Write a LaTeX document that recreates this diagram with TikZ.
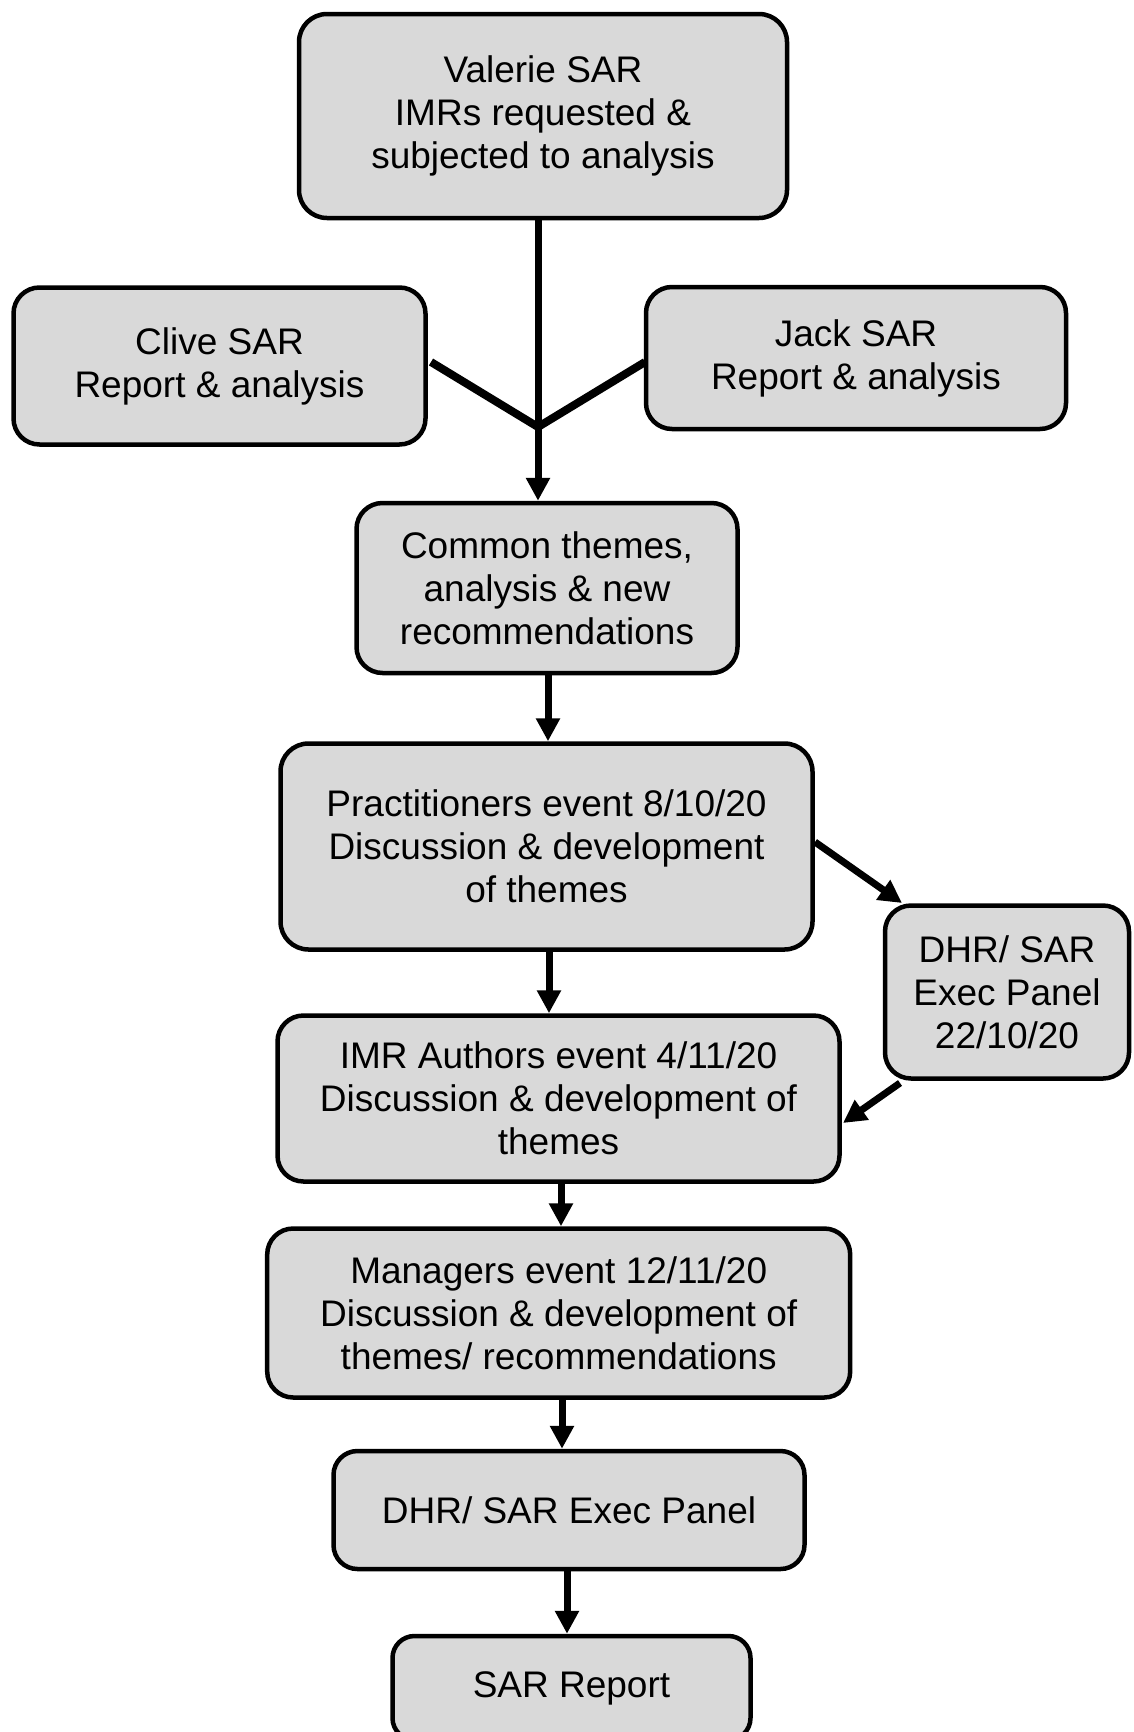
\documentclass[tikz,border=0pt]{standalone}
\usepackage{fontspec}
\setmainfont{Liberation Sans}
\usetikzlibrary{arrows.meta}
\definecolor{boxgray}{HTML}{D9D9D9}
\tikzset{
  box/.style={draw=black, fill=boxgray, line width=4.5pt, rounded corners=28pt,
    align=center, inner sep=0pt, font=\fontsize{37}{43}\selectfont, text=black},
  arr/.style={line width=7pt, -{Triangle[length=23pt,width=23pt]}},
  link/.style={line width=8pt}
}
\begin{document}
\begin{tikzpicture}[x=1pt,y=-1pt]
\fill[white] (0,0) rectangle (1134,1732);
\useasboundingbox (0,0) rectangle (1134,1732);
\clip (0,0) rectangle (1134,1732);

\node[box, minimum width=488pt, minimum height=204pt] (valerie) at (543,116)
  {Valerie SAR\\IMRs requested \&\\subjected to analysis};
\node[box, minimum width=412pt, minimum height=157pt, rounded corners=26pt] (clive) at (219.5,366)
  {Clive SAR\\Report \& analysis};
\node[box, minimum width=420pt, minimum height=142pt, rounded corners=26pt] (jack) at (856,358)
  {Jack SAR\\Report \& analysis};
\node[box, minimum width=381pt, minimum height=170pt, rounded corners=26pt] (common) at (547,588)
  {Common themes,\\analysis \& new\\recommendations};
\node[box, minimum width=532pt, minimum height=206pt] (prac) at (546.5,846.5)
  {Practitioners event 8/10/20\\Discussion \& development\\of themes};
\node[box, minimum width=244pt, minimum height=173pt, rounded corners=26pt] (panel) at (1007,992)
  {DHR/ SAR\\Exec Panel\\22/10/20};
\node[box, minimum width=562pt, minimum height=166pt, rounded corners=26pt] (imr) at (558.5,1098.5)
  {IMR Authors event 4/11/20\\Discussion \& development of\\themes};
\node[box, minimum width=583pt, minimum height=169pt, rounded corners=26pt] (managers) at (558.7,1313)
  {Managers event 12/11/20\\Discussion \& development of\\themes/ recommendations};
\node[box, minimum width=471pt, minimum height=118pt, rounded corners=24pt] (dhr) at (569,1510)
  {DHR/ SAR Exec Panel};
\node[box, minimum width=358pt, minimum height=104pt, rounded corners=22pt] (sar) at (571.5,1688)
  {SAR Report};

% x positions of the vertical connectors
\coordinate (xa) at (538,0);
\coordinate (xb) at (548,0);
\coordinate (xc) at (549,0);
\coordinate (xd) at (561,0);
\coordinate (xe) at (562,0);
\coordinate (xf) at (567,0);
\coordinate (junction) at (538,427);
\coordinate (cliveout) at (431,362);
\coordinate (jackout) at (645,362);
\coordinate (pracout) at (815,842);
\coordinate (panelin) at (902,903);
\coordinate (panelout) at (900,1083);
\coordinate (imrin) at (843,1123);

\draw[link] (cliveout) -- (junction) -- (jackout);
\draw[arr] (valerie.south -| xa) -- (common.north -| xa);
\draw[arr] (common.south -| xb) -- (prac.north -| xb);
\draw[arr] (prac.south -| xc) -- (imr.north -| xc);
\draw[arr] (imr.south -| xd) -- (managers.north -| xd);
\draw[arr] (managers.south -| xe) -- (dhr.north -| xe);
\draw[arr] (dhr.south -| xf) -- (sar.north -| xf);
\draw[arr] (pracout) -- (panelin);
\draw[arr] (panelout) -- (imrin);
\end{tikzpicture}
\end{document}
